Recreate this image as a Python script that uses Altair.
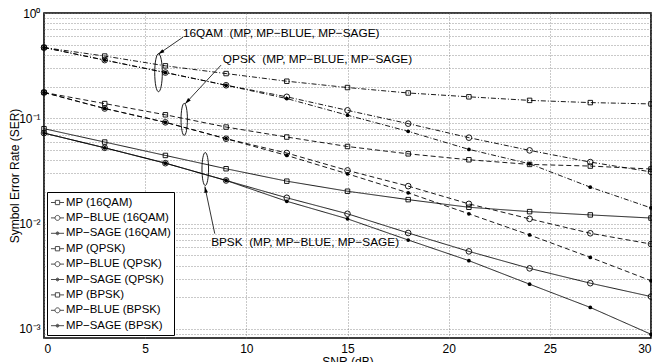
import math
import altair as alt
import pandas as pd

# ---------------- data ----------------
snr = [0, 3, 6, 9, 12, 15, 18, 21, 24, 27, 30]

qam16_mp = [0.47, 0.39, 0.315, 0.266, 0.225, 0.196, 0.174, 0.16, 0.148, 0.141, 0.137]
qam16_blue = [0.47, 0.357, 0.272, 0.206, 0.16, 0.119, 0.089, 0.0655, 0.0496, 0.0384, 0.031]
qam16_sage = [0.47, 0.357, 0.272, 0.206, 0.154, 0.107, 0.0752, 0.0507, 0.037, 0.0222, 0.0141]
qpsk_mp = [0.176, 0.138, 0.108, 0.0826, 0.0664, 0.054, 0.046, 0.0404, 0.0365, 0.0352, 0.033]
qpsk_blue = [0.176, 0.124, 0.0916, 0.064, 0.0468, 0.032, 0.0227, 0.0154, 0.0111, 0.0081, 0.0064]
qpsk_sage = [0.176, 0.124, 0.0916, 0.064, 0.0444, 0.0297, 0.0196, 0.0124, 0.0078, 0.00478, 0.00287]
bpsk_mp = [0.0797, 0.0595, 0.0444, 0.0332, 0.0253, 0.0203, 0.0169, 0.0143, 0.013, 0.0121, 0.0113]
bpsk_blue = [0.0724, 0.0525, 0.0375, 0.0257, 0.0176, 0.0124, 0.00815, 0.00545, 0.00376, 0.00272, 0.00203]
bpsk_sage = [0.0724, 0.0525, 0.0375, 0.0257, 0.0163, 0.0111, 0.00699, 0.00445, 0.00266, 0.0016, 0.00089]

modulations = ["16QAM", "QPSK", "BPSK"]
methods = ["MP", "MP\u2212BLUE", "MP\u2212SAGE"]
series_values = [
    [qam16_mp, qam16_blue, qam16_sage],
    [qpsk_mp, qpsk_blue, qpsk_sage],
    [bpsk_mp, bpsk_blue, bpsk_sage],
]

x_ticks = [0, 5, 10, 15, 20, 25, 30]
y_decades = [1, 0.1, 0.01, 0.001]
y_decade_labels = ["10\u2070", "10\u207b\u00b9", "10\u207b\u00b2", "10\u207b\u00b3"]

# annotations (data coordinates)
ann_text = ["16QAM\u00a0\u00a0(MP, MP\u2212BLUE, MP\u2212SAGE)",
            "QPSK\u00a0\u00a0(MP, MP\u2212BLUE, MP\u2212SAGE)",
            "BPSK\u00a0\u00a0(MP, MP\u2212BLUE, MP\u2212SAGE)"]
ann_text_x = [6.87, 8.84, 8.26]
ann_text_y = [0.649, 0.365, 0.00674]
ell_x = [5.66, 6.93, 7.97]
ell_y = [0.271, 0.0977, 0.033]
ell_h = [38, 32, 33]
arr_from_x = [6.87, 8.75, 8.44]
arr_from_y = [0.59, 0.32, 0.00803]
arr_to_x = [5.65, 6.98, 7.95]
arr_to_y = [0.407, 0.1375, 0.0225]

# ---------------- geometry / style ----------------
W, H = 607, 325
Y_MIN = 10 ** -3.086
X_MAX = 30
FONT = "Liberation Sans"

rows = []
for mod, vals3 in zip(modulations, series_values):
    for meth, vals in zip(methods, vals3):
        for s, v in zip(snr, vals):
            rows.append({"snr": s, "ser": v, "mod": mod, "method": meth,
                         "series": f"{meth} ({mod})"})
df = pd.DataFrame(rows)
series_order = [f"{m} ({mod})" for mod in modulations for m in methods]

# pixel helpers for arrow angles
def px(x):
    return x * W / X_MAX

def py(y):
    return -math.log10(y) * H / (-math.log10(Y_MIN))

ann_rows = []
for i in range(3):
    dx = px(arr_to_x[i]) - px(arr_from_x[i])
    dy = py(arr_to_y[i]) - py(arr_from_y[i])
    ang = (math.degrees(math.atan2(dx, -dy)) + 360) % 360
    ann_rows.append({"text": ann_text[i], "tx": ann_text_x[i], "ty": ann_text_y[i],
                     "ex": ell_x[i], "ey": ell_y[i], "esize": ell_h[i] ** 2,
                     "fx": arr_from_x[i], "fy": arr_from_y[i],
                     "ax": arr_to_x[i], "ay": arr_to_y[i], "angle": ang})
ann = pd.DataFrame(ann_rows)

y_values = [0.0009]
for e in [-3, -2, -1]:
    for k in range(1, 10):
        y_values.append(round(k * 10 ** e, 6))
y_values.append(1)

label_expr = " : ".join(
    [f"datum.value == {v} ? '{l}'" for v, l in zip(y_decades, y_decade_labels)]
) + " : ''"

xscale = alt.Scale(domain=[0, X_MAX], nice=False, zero=False)
yscale = alt.Scale(type="log", domain=[Y_MIN, 1], nice=False)

X = alt.X("snr:Q", scale=xscale,
          axis=alt.Axis(values=x_ticks, title="SNR (dB)", labelPadding=5,
                        titlePadding=2, format="d"))
Y = alt.Y("ser:Q", scale=yscale,
          axis=alt.Axis(values=y_values, labelExpr=label_expr,
                        title="Symbol Error Rate (SER)", labelPadding=4,
                        titleX=-30, titleBaseline="middle"))

base = alt.Chart(df)

lines = base.mark_line(color="black", strokeWidth=0.9).encode(
    x=X, y=Y, detail="series:N",
    strokeDash=alt.StrokeDash("mod:N", scale=alt.Scale(
        domain=modulations, range=[[5, 2, 1, 2], [5, 3], [1, 0]]), legend=None),
)

open_pts = base.transform_filter(
    alt.FieldOneOfPredicate(field="method", oneOf=methods[:2])
).mark_point(filled=False, color="black", strokeWidth=0.9, opacity=1).encode(
    x=X, y=Y,
    shape=alt.Shape("method:N", scale=alt.Scale(domain=methods[:2], range=["square", "circle"]), legend=None),
    size=alt.Size("method:N", scale=alt.Scale(domain=methods[:2], range=[20, 32]), legend=None),
)

dots = base.transform_filter(
    alt.FieldEqualPredicate(field="method", equal=methods[2])
).mark_circle(color="black", size=14, opacity=1).encode(x=X, y=Y)

sq = "M-1,0L-0.33,0M-0.33,-0.33L0.33,-0.33L0.33,0.33L-0.33,0.33ZM0.33,0L1,0"
ci = "M-1,0L-0.38,0M0.38,0A0.38,0.38,0,1,1,-0.38,0A0.38,0.38,0,1,1,0.38,0M0.38,0L1,0"
dt = ("M-1,0L1,0M0.22,0A0.22,0.22,0,1,1,-0.22,0A0.22,0.22,0,1,1,0.22,0"
      "M0.11,0A0.11,0.11,0,1,1,-0.11,0A0.11,0.11,0,1,1,0.11,0")
legend_layer = base.transform_filter("false").mark_point(
    filled=False, color="black", strokeWidth=1, size=170
).encode(
    x=X, y=Y,
    shape=alt.Shape("series:N", scale=alt.Scale(domain=series_order, range=[sq, ci, dt] * 3),
                    legend=alt.Legend(title=None, orient="none", legendX=3, legendY=179,
                                      strokeColor="black", fillColor="white", padding=3,
                                      labelFont=FONT, labelFontSize=11.4, labelColor="black",
                                      symbolSize=170, symbolStrokeWidth=1, symbolStrokeColor="black",
                                      rowPadding=2.4, labelOffset=1, labelLimit=300)),
)

annb = alt.Chart(ann)
ax_x = alt.X("tx:Q", scale=xscale)
ell_path = "M0,-1C0.11,-1,0.2,-0.55,0.2,0C0.2,0.55,0.11,1,0,1C-0.11,1,-0.2,0.55,-0.2,0C-0.2,-0.55,-0.11,-1,0,-1Z"
ellipses = annb.mark_point(shape=ell_path, filled=False, color="black", strokeWidth=0.9, opacity=1).encode(
    x=alt.X("ex:Q", scale=xscale), y=alt.Y("ey:Q", scale=yscale),
    size=alt.Size("esize:Q", scale=None, legend=None),
)
shafts = annb.mark_rule(color="black", strokeWidth=0.8).encode(
    x=alt.X("fx:Q", scale=xscale), y=alt.Y("fy:Q", scale=yscale),
    x2="ax:Q", y2="ay:Q",
)
heads = annb.mark_point(shape="M0,0L0.3,1L-0.3,1Z", filled=True, color="black", size=150, opacity=1).encode(
    x=alt.X("ax:Q", scale=xscale), y=alt.Y("ay:Q", scale=yscale),
    angle=alt.Angle("angle:Q", scale=None),
)
texts = annb.mark_text(align="left", baseline="middle", font=FONT, fontSize=11.8, color="black").encode(
    x=ax_x, y=alt.Y("ty:Q", scale=yscale), text="text:N",
)

chart = alt.layer(lines, open_pts, dots, ellipses, shafts, heads, texts, legend_layer).resolve_scale(
    shape="independent", size="independent"
).properties(
    width=W, height=H,
    autosize=alt.AutoSizeParams(type="none"),
    padding={"left": 36, "top": 5, "right": 1, "bottom": 24},
).configure_view(
    stroke="black", strokeWidth=1.6
).configure_axis(
    labelFont=FONT, titleFont=FONT, labelFontSize=12, titleFontSize=12,
    titleFontWeight="normal", labelColor="black", titleColor="black",
    gridColor="#777", gridDash=[1, 2], gridWidth=0.8, domain=False, ticks=False,
)

chart.save("out.html", embed_options={"renderer": "svg", "actions": False})
